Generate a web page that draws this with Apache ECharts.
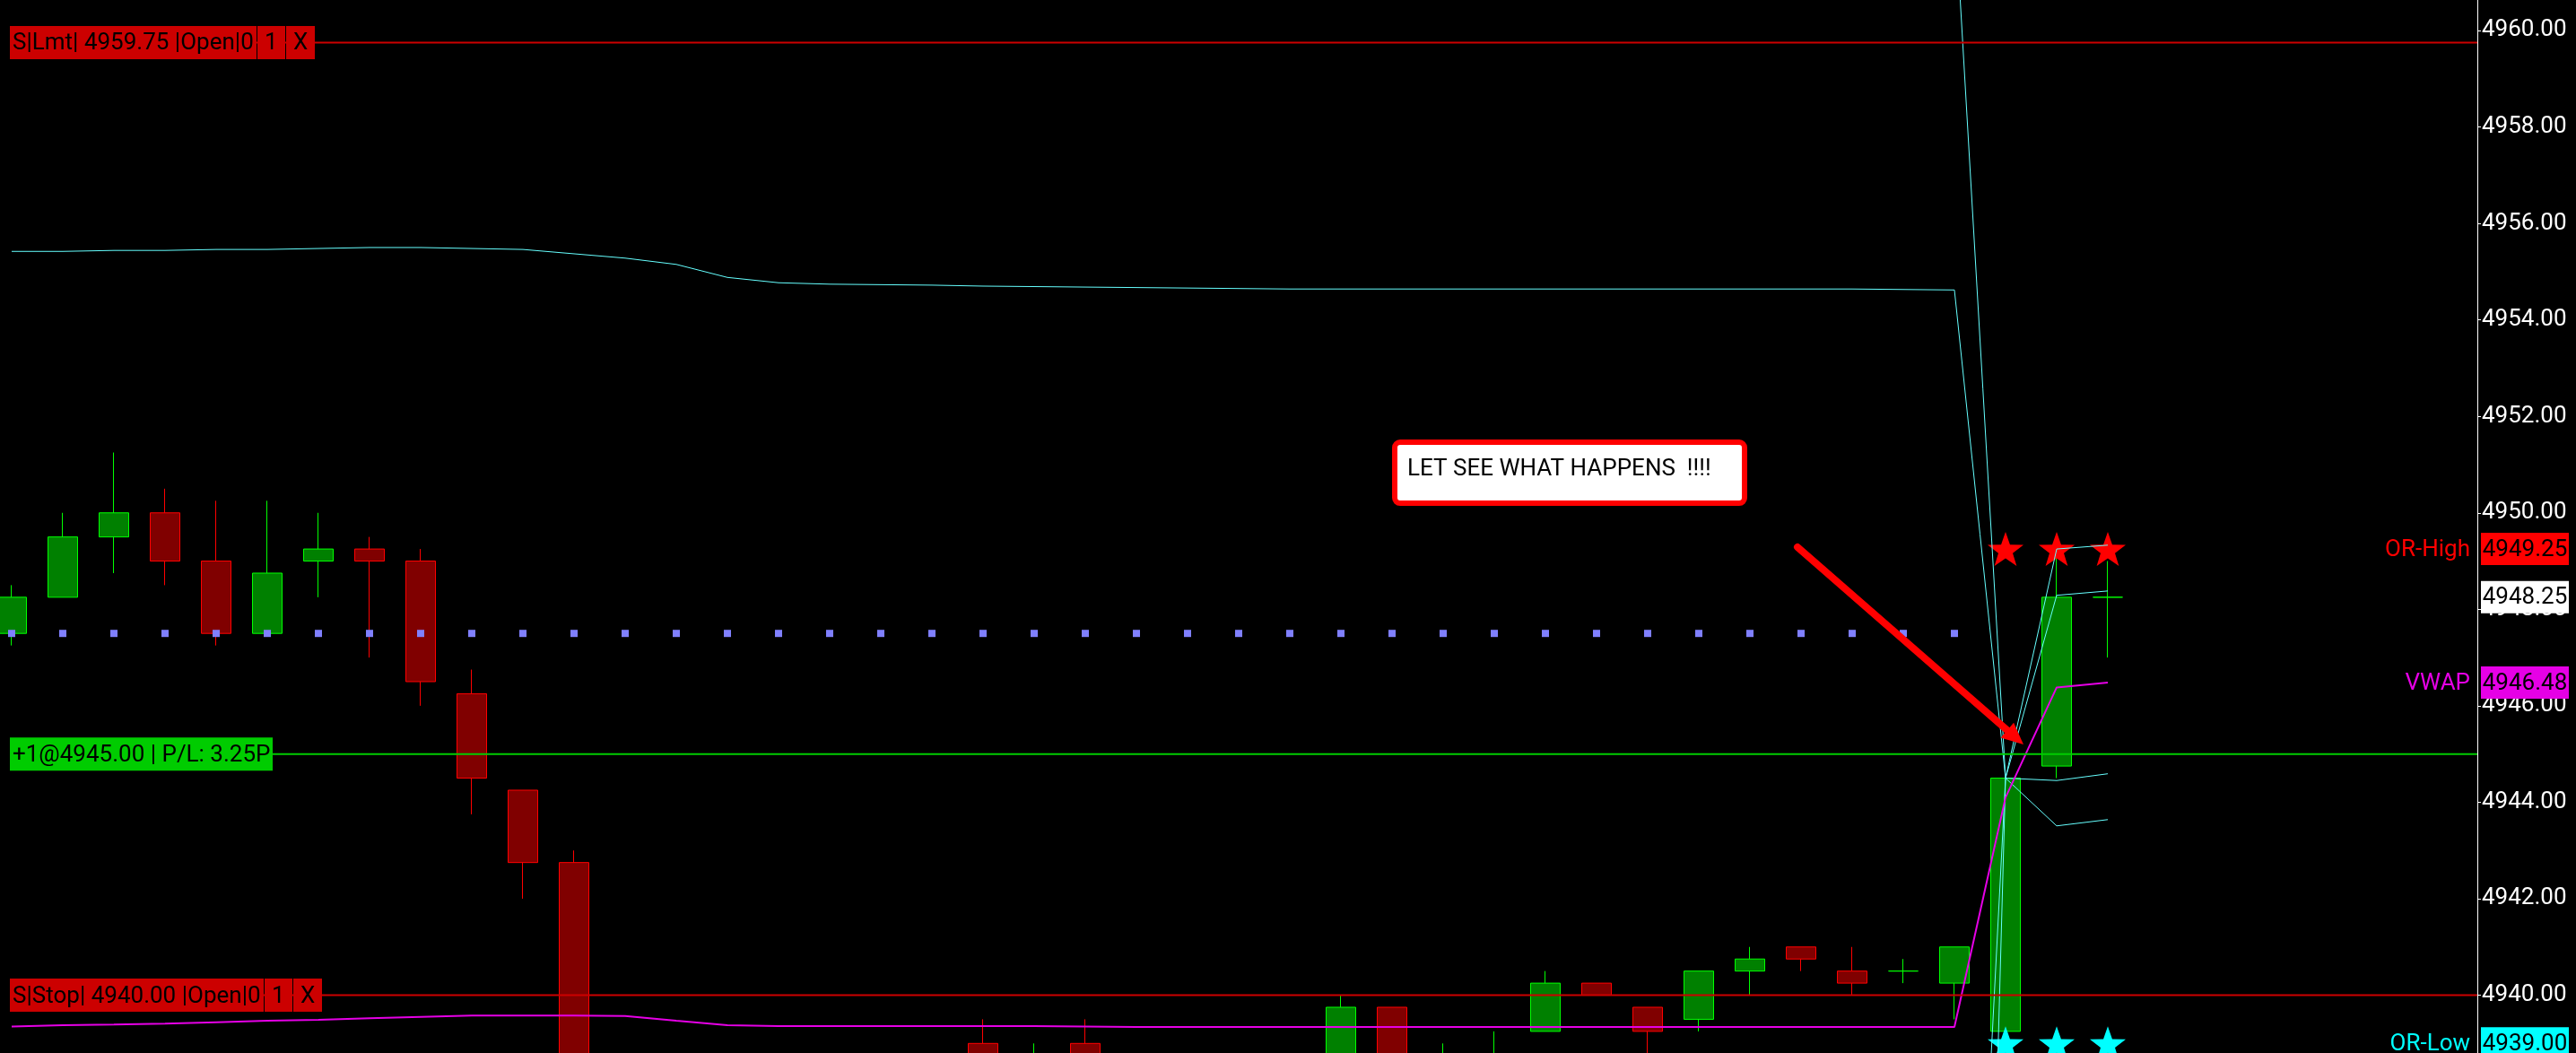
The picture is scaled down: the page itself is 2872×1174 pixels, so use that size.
<!DOCTYPE html>
<html>
<head>
<meta charset="utf-8">
<script src="https://cdn.jsdelivr.net/npm/echarts@6/dist/echarts.min.js"></script>
<style>
html,body{margin:0;padding:0;background:#000;overflow:hidden;}
#c{width:2872px;height:1174px;}
</style>
</head>
<body>
<div id="c"></div>
<script>
// ---------------- DATA ----------------
// bar slots (42 bars drawn, the rest is empty right margin)
const categories = ['1','2','3','4','5','6','7','8','9','10','11','12','13','14','15','16','17','18','19','20',
  '21','22','23','24','25','26','27','28','29','30','31','32','33','34','35','36','37','38','39','40',
  '41','42','43','44','45','46','47','48','49'];

const openP = [
  4947.50, 4948.25, 4949.50, 4950.00, 4949.00, 4947.50, 4949.00, 4949.25, 4949.00, 4946.25,
  4944.25, 4942.75, 4937.75, 4937.00, 4937.50, 4937.25, 4938.00, 4937.50, 4938.25, 4939.00,
  4938.25, 4939.00, 4938.25, 4938.50, 4938.25, 4938.50, 4938.25, 4939.75, 4938.50, 4938.25,
  4939.25, 4940.25, 4939.75, 4939.50, 4940.50, 4941.00, 4940.50, 4940.50, 4940.25, 4939.25,
  4944.75, 4948.25];
const closeP = [
  4948.25, 4949.50, 4950.00, 4949.00, 4947.50, 4948.75, 4949.25, 4949.00, 4946.50, 4944.50,
  4942.75, 4937.75, 4937.00, 4937.50, 4937.25, 4938.00, 4937.50, 4938.25, 4938.50, 4938.25,
  4938.50, 4938.25, 4938.50, 4938.25, 4938.50, 4938.25, 4939.75, 4938.50, 4938.75, 4938.50,
  4940.25, 4940.00, 4939.25, 4940.50, 4940.75, 4940.75, 4940.25, 4940.50, 4941.00, 4944.50,
  4948.25, 4948.25];
const lowP = [
  4947.25, 4948.25, 4948.75, 4948.50, 4947.25, 4947.50, 4948.25, 4947.00, 4946.00, 4943.75,
  4942.00, 4937.25, 4936.50, 4936.75, 4936.75, 4937.00, 4937.25, 4937.25, 4938.00, 4938.00,
  4938.00, 4938.00, 4938.00, 4938.00, 4938.00, 4938.00, 4938.00, 4938.25, 4938.25, 4938.00,
  4939.25, 4940.00, 4938.50, 4939.25, 4940.00, 4940.50, 4940.00, 4940.25, 4939.50, 4939.00,
  4944.50, 4947.00];
const highP = [
  4948.50, 4950.00, 4951.25, 4950.50, 4950.25, 4950.25, 4950.00, 4949.50, 4949.25, 4946.75,
  4944.25, 4943.00, 4938.25, 4938.00, 4938.25, 4938.50, 4938.50, 4938.50, 4938.75, 4939.50,
  4939.00, 4939.50, 4938.75, 4938.75, 4938.75, 4938.75, 4940.00, 4939.75, 4939.00, 4939.25,
  4940.50, 4940.25, 4939.75, 4940.50, 4941.00, 4941.00, 4941.00, 4940.75, 4941.00, 4944.50,
  4949.25, 4949.00];

const vwap = [
  4939.35, 4939.38, 4939.39, 4939.41, 4939.44, 4939.47, 4939.49, 4939.52, 4939.55, 4939.58,
  4939.58, 4939.58, 4939.57, 4939.47, 4939.38, 4939.36, 4939.36, 4939.36, 4939.36, 4939.36,
  4939.36, 4939.35, 4939.34, 4939.34, 4939.34, 4939.34, 4939.34, 4939.34, 4939.34, 4939.34,
  4939.34, 4939.34, 4939.34, 4939.34, 4939.34, 4939.34, 4939.34, 4939.34, 4939.34, 4944.10,
  4946.38, 4946.48];

const bandUpper1 = [
  4955.42, 4955.42, 4955.44, 4955.44, 4955.46, 4955.46, 4955.48, 4955.50, 4955.50, 4955.48,
  4955.46, 4955.37, 4955.28, 4955.15, 4954.88, 4954.77, 4954.74, 4954.73, 4954.72, 4954.70,
  4954.69, 4954.68, 4954.67, 4954.66, 4954.65, 4954.64, 4954.64, 4954.64, 4954.64, 4954.64,
  4954.64, 4954.64, 4954.64, 4954.64, 4954.64, 4954.64, 4954.64, 4954.63, 4954.62, 4944.50,
  4948.29, 4948.38];
const bandUpper2 = [
  4963.90, 4963.92, 4963.94, 4963.95, 4963.97, 4963.99, 4964.01, 4964.03, 4964.04, 4964.02,
  4963.99, 4963.85, 4963.70, 4963.50, 4963.10, 4962.95, 4962.90, 4962.88, 4962.86, 4962.84,
  4962.82, 4962.80, 4962.79, 4962.78, 4962.77, 4962.76, 4962.75, 4962.75, 4962.74, 4962.74,
  4962.73, 4962.73, 4962.72, 4962.72, 4962.71, 4962.71, 4962.71, 4962.70, 4962.70, 4944.50,
  4949.25, 4949.33];
const bandLower1 = [
  4923.28, 4923.34, 4923.34, 4923.38, 4923.42, 4923.48, 4923.50, 4923.54, 4923.60, 4923.68,
  4923.70, 4923.79, 4923.86, 4923.79, 4923.88, 4923.95, 4923.98, 4923.99, 4924.00, 4924.02,
  4924.03, 4924.02, 4924.01, 4924.02, 4924.03, 4924.04, 4924.04, 4924.04, 4924.04, 4924.04,
  4924.04, 4924.04, 4924.04, 4924.04, 4924.04, 4924.04, 4924.05, 4924.05, 4924.06, 4944.50,
  4944.45, 4944.59];
const bandLower2 = [
  4905.20, 4905.25, 4905.28, 4905.32, 4905.36, 4905.40, 4905.44, 4905.48, 4905.52, 4905.58,
  4905.62, 4905.70, 4905.78, 4905.74, 4905.82, 4905.88, 4905.90, 4905.92, 4905.94, 4905.95,
  4905.96, 4905.96, 4905.97, 4905.97, 4905.98, 4905.98, 4905.98, 4905.99, 4905.99, 4905.99,
  4906.00, 4906.00, 4906.00, 4906.00, 4906.00, 4906.00, 4906.00, 4906.00, 4906.00, 4944.50,
  4943.51, 4943.64];

// dotted level (bars 0..38)
const dotLevel = [
  4947.50, 4947.50, 4947.50, 4947.50, 4947.50, 4947.50, 4947.50, 4947.50, 4947.50, 4947.50,
  4947.50, 4947.50, 4947.50, 4947.50, 4947.50, 4947.50, 4947.50, 4947.50, 4947.50, 4947.50,
  4947.50, 4947.50, 4947.50, 4947.50, 4947.50, 4947.50, 4947.50, 4947.50, 4947.50, 4947.50,
  4947.50, 4947.50, 4947.50, 4947.50, 4947.50, 4947.50, 4947.50, 4947.50, 4947.50];

// opening range stars
const starBars = [39, 40, 41];
const orHigh = 4949.25;
const orLow = 4939.00;

// order / position lines
const levelValues = [4959.75, 4945.00, 4940.00];
const levelColors = ['#cc0000', '#00cc00', '#cc0000'];
const levelTexts = [
  ['S|Lmt| 4959.75 |Open|0', '1', 'X'],
  ['+1@4945.00 | P/L: 3.25P'],
  ['S|Stop| 4940.00 |Open|0', '1', 'X']
];

// right-hand price tags
const tagNames  = ['OR-High', '', 'VWAP', 'OR-Low'];
const tagValues = [4949.25, 4948.25, 4946.48, 4939.00];
const tagColors = ['#ff0000', '#ffffff', '#e600e6', '#00ffff'];

// y axis
const yMin = 4938, yMax = 4962, yStep = 2;

// annotations (bar index, price)
const noteText = 'LET SEE WHAT HAPPENS  !!!!';
const noteAnchor = [27, 4951.5];
const arrowFrom = [34.93, 4949.29];
const arrowTo = [39.35, 4945.20];

// ---------------- CHART ----------------
const FONT = 'Roboto, "Noto Sans", sans-serif';
const GRID_TOP = -73.6, GRID_BOTTOM = -43.1;
const STAR = 'path://M50 0 L61.76 33.82 L97.55 34.55 L69.02 56.18 L79.39 90.45 L50 70 L20.61 90.45 L30.98 56.18 L2.45 34.55 L38.24 33.82 Z';

const chart = echarts.init(document.getElementById('c'), null, {renderer: 'canvas'});

const candleData = openP.map((o, i) => [o, closeP[i], lowP[i], highP[i]]);
const bandStyle = {color: '#66ffff', width: 1};
function bandSeries(name, arr) {
  return {name, type: 'line', xAxisIndex: 0, yAxisIndex: 0, data: arr, symbol: 'none',
    lineStyle: bandStyle, itemStyle: {color: '#66ffff'}, z: 4, silent: true};
}
const hiddenAxis = {show: false, axisLine: {show: false, onZero: false}, axisTick: {show: false},
  axisLabel: {show: false}, splitLine: {show: false}};

const option = {
  backgroundColor: '#000000',
  animation: false,
  grid: [
    {left: 13, right: 123, top: GRID_TOP, bottom: GRID_BOTTOM, outerBoundsMode: 'none', containLabel: false},
    {left: 11, right: 110, top: GRID_TOP, bottom: GRID_BOTTOM, outerBoundsMode: 'none', containLabel: false}
  ],
  xAxis: [
    Object.assign({type: 'category', gridIndex: 0, data: categories, boundaryGap: false}, hiddenAxis),
    Object.assign({type: 'value', gridIndex: 1, min: 0, max: 1}, hiddenAxis)
  ],
  yAxis: [
    Object.assign({type: 'value', gridIndex: 0, min: yMin, max: yMax, interval: yStep}, hiddenAxis),
    {type: 'value', gridIndex: 1, position: 'right', min: yMin, max: yMax, interval: yStep,
      axisLine: {show: true, onZero: false, lineStyle: {color: '#ffffff', width: 1}},
      axisTick: {show: true, length: 4, lineStyle: {color: '#ffffff', width: 1}},
      axisLabel: {color: '#ffffff', fontFamily: FONT, fontSize: 26, margin: 5,
        formatter: v => v.toFixed(2)},
      splitLine: {show: false}}
  ],
  series: [
    {name: 'Price', type: 'candlestick', xAxisIndex: 0, yAxisIndex: 0, data: candleData,
      barWidth: 33, z: 2,
      itemStyle: {color: '#008000', color0: '#800000', borderColor: '#00ff00',
        borderColor0: '#ff0000', borderColorDoji: '#00ff00', borderWidth: 1}},
    {name: 'OR-High', type: 'scatter', xAxisIndex: 0, yAxisIndex: 0,
      data: starBars.map(i => [i, orHigh]), symbol: STAR, symbolSize: [40, 38],
      itemStyle: {color: '#ff0000', opacity: 1}, z: 3},
    {name: 'OR-Low', type: 'scatter', xAxisIndex: 0, yAxisIndex: 0,
      data: starBars.map(i => [i, orLow]), symbol: STAR, symbolSize: [40, 38],
      itemStyle: {color: '#00ffff', opacity: 1}, z: 3},
    {name: 'Level', type: 'scatter', xAxisIndex: 0, yAxisIndex: 0,
      data: dotLevel.map((v, i) => [i, v]), symbol: 'rect', symbolSize: [8, 8],
      itemStyle: {color: '#8080ff', opacity: 1}, z: 4},
    bandSeries('Upper 2', bandUpper2),
    bandSeries('Upper 1', bandUpper1),
    bandSeries('Lower 1', bandLower1),
    bandSeries('Lower 2', bandLower2),
    {name: 'VWAP', type: 'line', xAxisIndex: 0, yAxisIndex: 0, data: vwap, symbol: 'none',
      lineStyle: {color: '#e600e6', width: 2}, itemStyle: {color: '#e600e6'}, z: 4},
    ...levelValues.map((v, k) => ({
      name: 'line' + k, type: 'line', xAxisIndex: 1, yAxisIndex: 1,
      data: [[0, v], [1, v]], symbol: 'none',
      lineStyle: {color: levelColors[k], width: 2}, z: 5, silent: true
    }))
  ]
};
chart.setOption(option);

// ---------------- OVERLAY GRAPHICS ----------------
const mctx = document.createElement('canvas').getContext('2d');
function textW(s, size) { mctx.font = size + 'px ' + FONT; return mctx.measureText(s).width; }
function yPx(v) { return chart.convertToPixel({yAxisIndex: 0}, v); }
function xPx(i) {
  const x0 = chart.convertToPixel({xAxisIndex: 0}, 0);
  const x1 = chart.convertToPixel({xAxisIndex: 0}, 1);
  return x0 + (x1 - x0) * i;
}

const g = [];
const FS = 26;
// left order labels
levelValues.forEach((v, k) => {
  const cy = yPx(v);
  const h = 37;
  let x = 11;
  levelTexts[k].forEach((t, j) => {
    const pad = j === 0 ? 3 : 8;
    const w = Math.round(textW(t, FS) + pad * 2);
    g.push({type: 'rect', z: 100, shape: {x: x, y: cy - h / 2, width: w, height: h},
      style: {fill: levelColors[k]}});
    g.push({type: 'text', z: 101, style: {text: t, x: x + pad, y: cy + 1.5, fill: '#000000',
      font: FS + 'px ' + FONT, verticalAlign: 'middle', textAlign: 'left'}});
    x += w + 1;
  });
});

// right price tags
const axisX = chart.convertToPixel({xAxisIndex: 1}, 1);
tagValues.forEach((v, k) => {
  const cy = yPx(v);
  const h = 36, bx = axisX + 4, bw = 98;
  g.push({type: 'rect', z: 100, shape: {x: bx, y: cy - h / 2, width: bw, height: h},
    style: {fill: tagColors[k]}});
  g.push({type: 'text', z: 101, style: {text: v.toFixed(2), x: bx + bw / 2, y: cy + 1,
    fill: '#000000', font: FS + 'px ' + FONT, verticalAlign: 'middle', textAlign: 'center'}});
  if (tagNames[k]) {
    g.push({type: 'text', z: 101, style: {text: tagNames[k], x: axisX - 8, y: cy + 1,
      fill: tagColors[k], font: FS + 'px ' + FONT, verticalAlign: 'middle', textAlign: 'right'}});
  }
});

// note box
{
  const nx = xPx(noteAnchor[0]), ny = yPx(noteAnchor[1]);
  g.push({type: 'rect', z: 100, shape: {x: nx + 3, y: ny + 2, width: 390, height: 68, r: 6},
    style: {fill: '#ffffff', stroke: '#ff0000', lineWidth: 6}});
  g.push({type: 'text', z: 101, style: {text: noteText, x: nx + 17, y: ny + 32,
    fill: '#000000', font: FS + 'px ' + FONT, verticalAlign: 'middle', textAlign: 'left'}});
}

// arrow
{
  const sx = xPx(arrowFrom[0]), sy = yPx(arrowFrom[1]);
  const ex = xPx(arrowTo[0]), ey = yPx(arrowTo[1]);
  const dx = ex - sx, dy = ey - sy, L = Math.hypot(dx, dy);
  const ux = dx / L, uy = dy / L;
  const headL = 24, headW = 11;
  const bxp = ex - ux * headL, byp = ey - uy * headL;
  g.push({type: 'line', z: 102, shape: {x1: sx, y1: sy, x2: bxp + ux * 4, y2: byp + uy * 4},
    style: {stroke: '#ff0000', lineWidth: 8, lineCap: 'round'}});
  g.push({type: 'polygon', z: 102, shape: {points: [
      [ex, ey], [bxp - uy * headW, byp + ux * headW], [bxp + uy * headW, byp - ux * headW]]},
    style: {fill: '#ff0000'}});
}

chart.setOption({graphic: g});
</script>
</body>
</html>
